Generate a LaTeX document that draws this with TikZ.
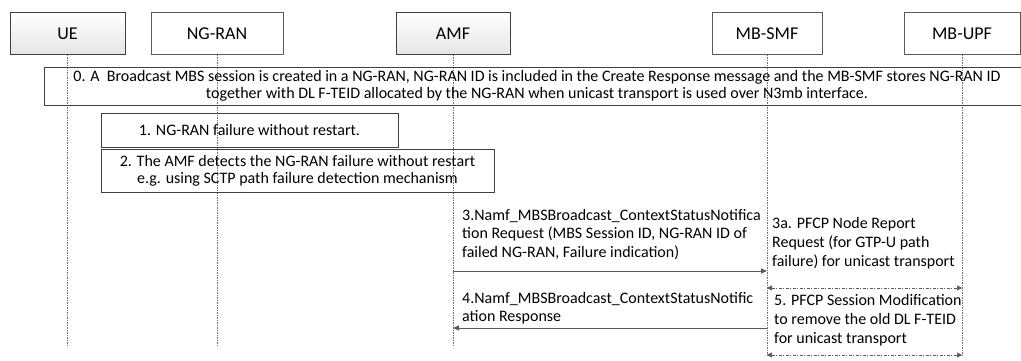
\documentclass[tikz,border=0pt]{standalone}
\usepackage{fontspec}
\setmainfont{Carlito}
\usetikzlibrary{arrows.meta}
\definecolor{linegray}{HTML}{5A5A5A}
\definecolor{lifegray}{HTML}{707070}
\definecolor{boxgray}{HTML}{404040}
\begin{document}
\begin{tikzpicture}[x=1pt,y=-1pt,
  hdr/.style={draw=linegray, line width=0.8pt, minimum height=42pt, inner sep=0pt,
    font=\fontsize{18}{21}\selectfont, fill=white},
  hdrshade/.style={hdr, top color=white, bottom color=gray!20, draw=boxgray},
  notebox/.style={draw=boxgray, line width=0.8pt, inner sep=0pt, align=center,
    font=\fontsize{16}{17}\selectfont},
  msgtext/.style={inner sep=0pt, align=left, anchor=north west,
    font=\fontsize{16}{18.5}\selectfont},
  msgtextb/.style={msgtext, font=\fontsize{16}{19.3}\selectfont},
  lifeline/.style={draw=lifegray, line width=0.6pt, dash pattern=on 1.5pt off 1pt},
  msg/.style={draw=linegray, line width=0.8pt, -{Triangle[length=6pt,width=5pt]}},
  dmsg/.style={draw=linegray, line width=0.7pt, dash pattern=on 3pt off 1.5pt on 1pt off 1.5pt,
    {Triangle[length=5pt,width=5pt]}-{Triangle[length=5pt,width=5pt]}}
]
\useasboundingbox (0,0) rectangle (1021,361);

% header boxes
\node[hdrshade, minimum width=115pt] (ue) at (67.5,33.5) {UE};
\node[hdr, minimum width=132pt] (ran) at (217,33.5) {NG-RAN};
\node[hdrshade, minimum width=114pt] (amf) at (453,33.5) {AMF};
\node[hdr, minimum width=110pt] (smf) at (767,33.5) {MB-SMF};
\node[hdr, minimum width=116pt] (upf) at (962,33.5) {MB-UPF};

% lifeline ends
\coordinate (ueE) at (67.5,346);
\coordinate (ranE) at (217,346);
\coordinate (amfE) at (453,346);
\coordinate (smfE) at (767,356);
\coordinate (upfE) at (962,356);

\draw[lifeline] (ue.south) -- (ueE);
\draw[lifeline] (ran.south) -- (ranE);
\draw[lifeline] (amf.south) -- (amfE);
\draw[lifeline] (smf.south) -- (smfE);
\draw[lifeline] (upf.south) -- (upfE);

% step boxes
\node[notebox, minimum width=986pt, minimum height=38pt] (s0) at (537,86)
  {0. A\ \ Broadcast MBS session is created in a NG-RAN, NG-RAN ID is included in the Create Response message and the MB-SMF stores NG-RAN ID\\
   together with DL F-TEID allocated by the NG-RAN when unicast transport is used over N3mb interface.};
\node[notebox, minimum width=297pt, minimum height=34pt] (s1) at (249.5,130)
  {1. NG-RAN failure without restart.};
\node[notebox, minimum width=393pt, minimum height=43pt] (s2) at (297.5,170.5)
  {2. The AMF detects the NG-RAN failure without restart\\e.g. using SCTP path failure detection mechanism};

% message 3
\node[msgtext] (t3) at (462,209)
  {3.Namf\_MBSBroadcast\_ContextStatusNotifica\\tion Request (MBS Session ID, NG-RAN ID of\\failed NG-RAN, Failure indication)};
\coordinate (m3s) at (453,271);
\coordinate (m3e) at (767,271);
\draw[msg] (m3s) -- (m3e);

% 3a
\node[msgtextb] (t3a) at (772,217)
  {3a. PFCP Node Report\\Request (for GTP-U path\\failure) for unicast transport};
\coordinate (m3as) at (767,288);
\coordinate (m3ae) at (962,288);
\draw[dmsg] (m3as) -- (m3ae);

% message 4
\node[msgtext] (t4) at (462,292)
  {4.Namf\_MBSBroadcast\_ContextStatusNotific\\ation Response};
\coordinate (m4s) at (767,328);
\coordinate (m4e) at (453,328);
\draw[msg] (m4s) -- (m4e);

% 5
\node[msgtextb] (t5) at (774,294)
  {5. PFCP Session Modification\\to remove the old DL F-TEID\\for unicast transport};
\coordinate (m5s) at (767,355);
\coordinate (m5e) at (962,355);
\draw[dmsg] (m5s) -- (m5e);
\end{tikzpicture}
\end{document}
